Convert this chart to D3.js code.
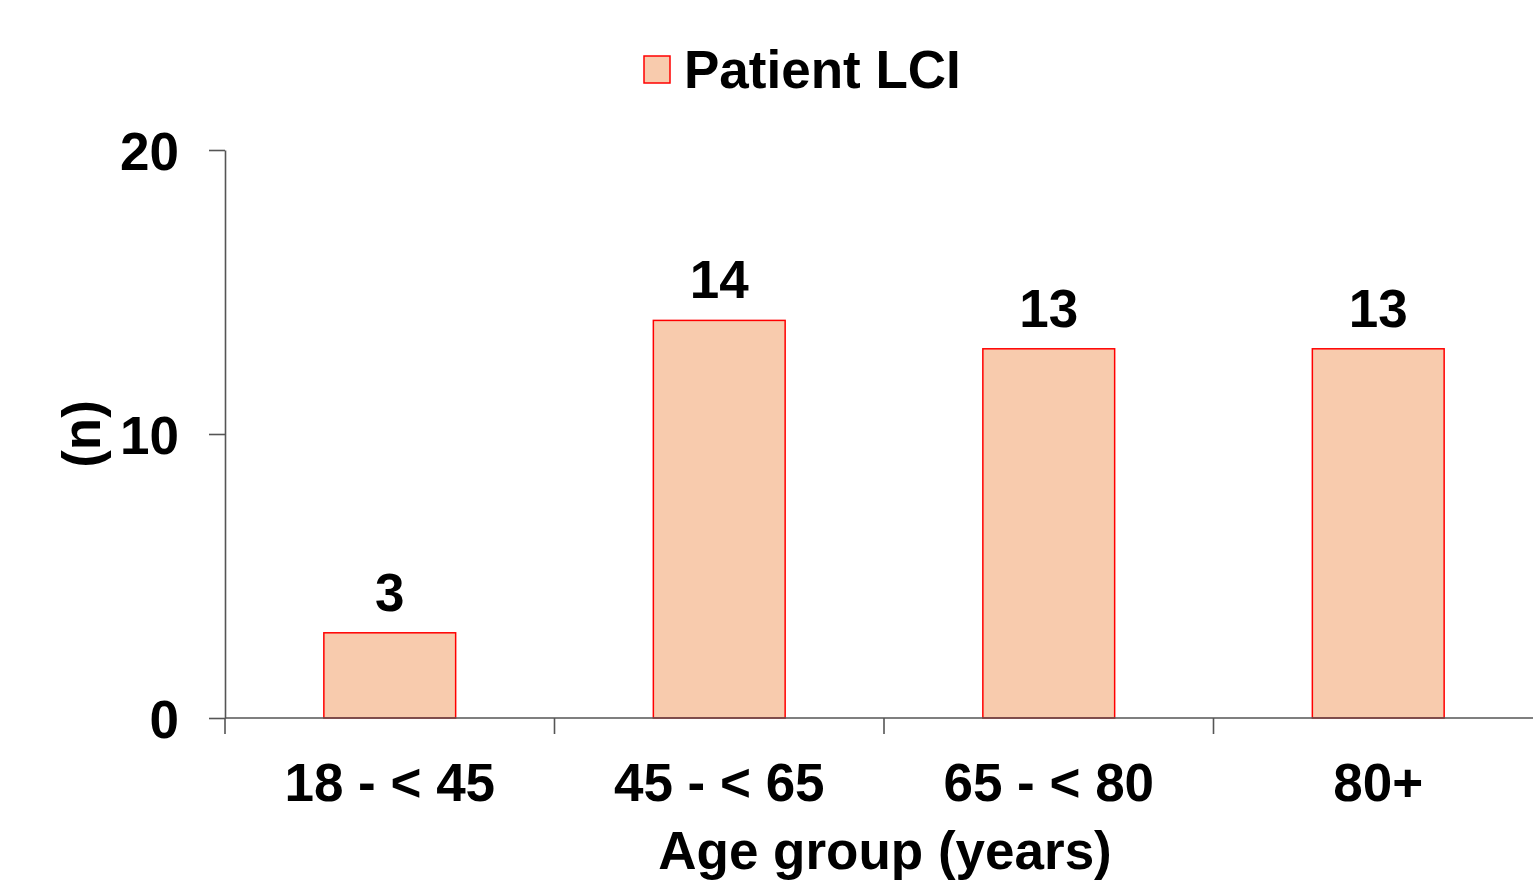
<!DOCTYPE html>
<html>
<head>
<meta charset="utf-8">
<script src="https://cdn.jsdelivr.net/npm/d3@7"></script>
<style>
  html, body { margin: 0; padding: 0; background: #fff; }
  svg { display: block; }
  text { font-family: "Liberation Sans", Arial, sans-serif; font-weight: bold; fill: #000; }
</style>
</head>
<body>
<svg id="chart" width="1533" height="883"></svg>
<script>
const categories = ["18 - < 45", "45 - < 65", "65 - < 80", "80+"];
const seriesName = "Patient LCI";
const values = [3, 14, 13, 13];
const yTicks = [0, 10, 20];
const xTitle = "Age group (years)";
const yTitle = "(n)";

(function () {
const svg = d3.select("#chart");
const mLeft = 225, mRight = 1543, mTop = 150, mBottom = 718;
const axisColor = "#555555";
const fontSize = 53;

const x = d3.scaleBand().domain(categories).range([mLeft, mRight])
  .paddingInner(0.6).paddingOuter(0.3);
const y = d3.scaleLinear().domain([0, 20]).range([mBottom, mTop]);

// Bars
svg.append("g").selectAll("rect").data(values).join("rect")
  .attr("x", (d, i) => x(categories[i]))
  .attr("y", d => y(d))
  .attr("width", x.bandwidth())
  .attr("height", d => y(0) - y(d))
  .attr("fill", "#F8CBAD")
  .attr("stroke", "#FF0000")
  .attr("stroke-width", 1.5);

// Y axis
const yAxis = svg.append("g").attr("transform", `translate(${mLeft},0)`)
  .call(d3.axisLeft(y).tickValues(yTicks).tickSize(16).tickSizeOuter(0).tickPadding(30).tickFormat(d3.format("d")));
yAxis.attr("font-family", null).attr("font-size", null);
yAxis.select(".domain").attr("stroke", axisColor).attr("stroke-width", 1.6);
yAxis.selectAll(".tick line").attr("stroke", axisColor).attr("stroke-width", 1.6);
yAxis.selectAll(".tick text").style("font-size", fontSize + "px")
  .attr("dy", "0.36em");

// X axis line
const step = x.step();
svg.append("line")
  .attr("x1", mLeft).attr("x2", 1533)
  .attr("y1", y(0)).attr("y2", y(0))
  .attr("stroke", axisColor).attr("stroke-width", 1.6);

// X boundary ticks
const bounds = d3.range(categories.length + 1).map(i => mLeft + i * step);
svg.append("g").selectAll("line").data(bounds).join("line")
  .attr("x1", d => d).attr("x2", d => d)
  .attr("y1", y(0)).attr("y2", y(0) + 16)
  .attr("stroke", axisColor).attr("stroke-width", 1.6);

// X labels
const xAxis = svg.append("g").attr("transform", `translate(0,${mBottom})`)
  .call(d3.axisBottom(x).tickSize(0).tickPadding(45));
xAxis.select(".domain").remove();
xAxis.attr("font-family", null).attr("font-size", null);
xAxis.selectAll(".tick text").style("font-size", fontSize + "px")
  .attr("dy", "0.71em");

// Value labels
svg.append("g").selectAll("text").data(values).join("text")
  .attr("x", (d, i) => x(categories[i]) + x.bandwidth() / 2)
  .attr("y", d => y(d) - 22)
  .attr("text-anchor", "middle")
  .style("font-size", fontSize + "px")
  .text(d => d);

// Axis titles
svg.append("text")
  .attr("x", 885).attr("y", 869)
  .attr("text-anchor", "middle")
  .style("font-size", fontSize + "px")
  .text(xTitle);

svg.append("text")
  .attr("transform", `translate(100,${y(10)}) rotate(-90)`)
  .attr("text-anchor", "middle")
  .style("font-size", fontSize + "px")
  .text(yTitle);

// Legend
const legend = svg.append("g");
legend.append("rect")
  .attr("x", 644).attr("y", 56).attr("width", 26).attr("height", 27)
  .attr("fill", "#F8CBAD").attr("stroke", "#FF0000").attr("stroke-width", 1.5);
legend.append("text")
  .attr("x", 684).attr("y", 88)
  .style("font-size", fontSize + "px")
  .text(seriesName);
})();
</script>
</body>
</html>
